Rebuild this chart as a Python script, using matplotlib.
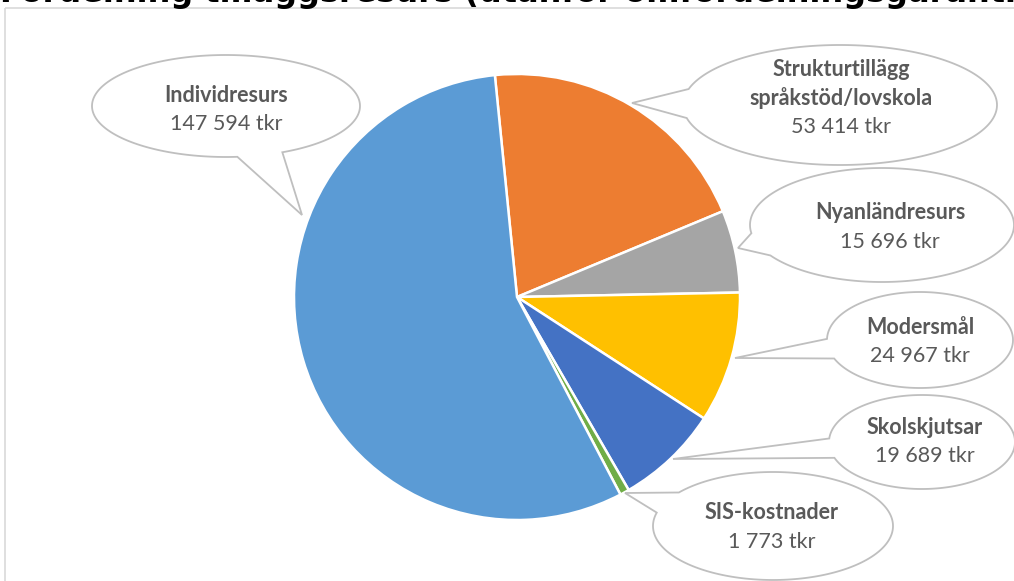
"""
Pie chart of the extra resource allocation (tkr) with oval callout labels.
"""

import numpy as np
import matplotlib
matplotlib.use("Agg")
import matplotlib.pyplot as plt
from matplotlib.path import Path
from matplotlib.patches import PathPatch, Rectangle

W, H = 1014, 581

# data, in pie order (clockwise from the top)
categories = ["Strukturtillägg\nspråkstöd/lovskola", "Nyanländresurs", "Modersmål",
              "Skolskjutsar", "SIS-kostnader", "Individresurs"]
values_tkr = [53414, 15696, 24967, 19689, 1773, 147594]
colors = ["#ED7D31", "#A5A5A5", "#FFC000", "#4472C4", "#70AD47", "#5B9BD5"]

title = "Fördelning tilläggsresurs (utanför omfördelningsgarantin)"

# callout layout in pixels: ellipse centre, half axes, tail tip, text centre
callouts = [
    dict(c=(840, 105), a=157, b=60, tip=(632, 103), txt=(841, 98), dt=14),
    dict(c=(882, 225), a=132, b=57, tip=(738, 248), txt=(890, 227), dt=12),
    dict(c=(920, 340), a=93, b=48, tip=(735, 358), txt=(920, 342), dt=12),
    dict(c=(922, 442), a=93, b=47, tip=(673, 459), txt=(925, 442), dt=12),
    dict(c=(773, 526), a=120, b=54, tip=(625, 493), txt=(772, 527), dt=12),
    dict(c=(226, 106), a=134, b=51, tip=(302, 215), txt=(226, 110), dt=10),
]

PIE_C = (517, 297)
PIE_R = 223
LINE = 29
TEXT_COLOR = "#595959"
FONT = "Lato"


def fmt(v):
    return f"{v:,}".replace(",", " ") + " tkr"


def callout_path(c, a, b, tip, dt):
    cx, cy = c
    t0 = np.arctan2((tip[1] - cy) / b, (tip[0] - cx) / a)
    d = np.radians(dt)
    ts = np.linspace(t0 + d, t0 + 2 * np.pi - d, 200)
    pts = [(cx + a * np.cos(t), cy + b * np.sin(t)) for t in ts]
    pts.append(tip)
    pts.append(pts[0])
    codes = [Path.MOVETO] + [Path.LINETO] * (len(pts) - 2) + [Path.CLOSEPOLY]
    return Path(pts, codes)


fig = plt.figure(figsize=(W / 100, H / 100), dpi=100)
fig.patch.set_facecolor("white")

# full-figure overlay in pixel coordinates
bg = fig.add_axes([0, 0, 1, 1])
bg.set_xlim(0, W)
bg.set_ylim(H, 0)
bg.axis("off")
bg.add_patch(Rectangle((5, 8), W + 20, H + 20, fill=False, ec="#D9D9D9", lw=1.2))
# the title is clipped by the top edge in the original picture
bg.text(0, 2, title, fontsize=23, fontweight="bold", color="black",
        family="DejaVu Sans", ha="left", va="baseline", clip_on=False)

# pie
pax = fig.add_axes([(PIE_C[0] - PIE_R) / W, (H - PIE_C[1] - PIE_R) / H,
                    2 * PIE_R / W, 2 * PIE_R / H])
start = 90 + 5.7
pax.pie(values_tkr, colors=colors, startangle=start, counterclock=False,
        radius=1.0, wedgeprops=dict(edgecolor="white", linewidth=1.8))
pax.set_xlim(-1, 1)
pax.set_ylim(-1, 1)

# callouts on top
ov = fig.add_axes([0, 0, 1, 1])
ov.set_xlim(0, W)
ov.set_ylim(H, 0)
ov.axis("off")
ov.patch.set_alpha(0)

for name, val, co in zip(categories, values_tkr, callouts):
    ov.add_patch(PathPatch(callout_path(co["c"], co["a"], co["b"], co["tip"], co["dt"]),
                           fc="white", ec="#BFBFBF", lw=1.3))
    lines = name.split("\n")
    n = len(lines) + 1
    tx, tyc = co["txt"]
    y0 = tyc - (n - 1) * LINE / 2
    for i, ln in enumerate(lines):
        ov.text(tx, y0 + i * LINE, ln, fontsize=15.5, fontweight="bold",
                color=TEXT_COLOR, family=FONT, ha="center", va="center")
    ov.text(tx, y0 + len(lines) * LINE, fmt(val), fontsize=15.5,
            color=TEXT_COLOR, family=FONT, ha="center", va="center")

fig.savefig("out.png", dpi=100)
